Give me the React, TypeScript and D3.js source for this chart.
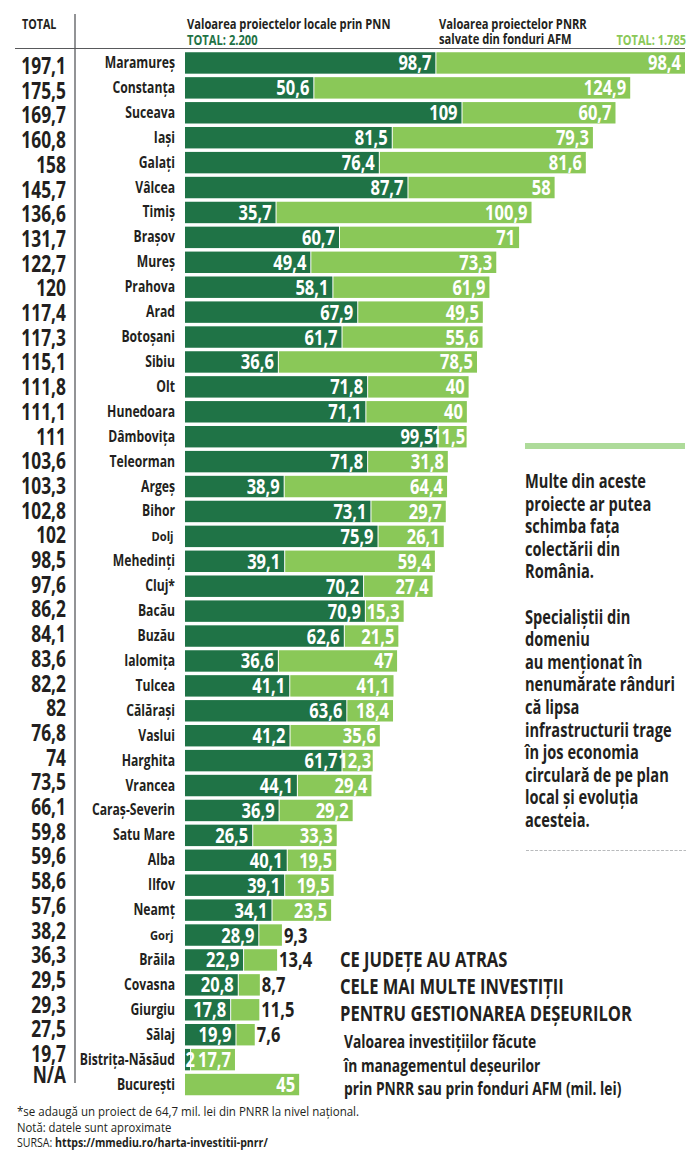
import React from "react";
import * as d3 from "d3";

const counties = ["Maramureș","Constanța","Suceava","Iași","Galați","Vâlcea","Timiș","Brașov","Mureș","Prahova","Arad","Botoșani","Sibiu","Olt","Hunedoara","Dâmbovița","Teleorman","Argeș","Bihor","Dolj","Mehedinți","Cluj*","Bacău","Buzău","Ialomița","Tulcea","Călărași","Vaslui","Harghita","Vrancea","Caraș-Severin","Satu Mare","Alba","Ilfov","Neamț","Gorj","Brăila","Covasna","Giurgiu","Sălaj","Bistrița-Năsăud","București"];
const localValues = [98.7,50.6,109,81.5,76.4,87.7,35.7,60.7,49.4,58.1,67.9,61.7,36.6,71.8,71.1,99.5,71.8,38.9,73.1,75.9,39.1,70.2,70.9,62.6,36.6,41.1,63.6,41.2,61.7,44.1,36.9,26.5,40.1,39.1,34.1,28.9,22.9,20.8,17.8,19.9,2,0];
const pnrrValues = [98.4,124.9,60.7,79.3,81.6,58,100.9,71,73.3,61.9,49.5,55.6,78.5,40,40,11.5,31.8,64.4,29.7,26.1,59.4,27.4,15.3,21.5,47,41.1,18.4,35.6,12.3,29.4,29.2,33.3,19.5,19.5,23.5,9.3,13.4,8.7,11.5,7.6,17.7,45];
const totals = ["197,1","175,5","169,7","160,8","158","145,7","136,6","131,7","122,7","120","117,4","117,3","115,1","111,8","111,1","111","103,6","103,3","102,8","102","98,5","97,6","86,2","84,1","83,6","82,2","82","76,8","74","73,5","66,1","59,8","59,6","58,6","57,6","38,2","36,3","29,5","29,3","27,5","19,7","N/A"];
const sideText = ["Multe din aceste","proiecte ar putea","schimba fața","colectării din","România.","","Specialiștii din","domeniu","au menționat în","nenumărate rânduri","că lipsa","infrastructurii trage","în jos economia","circulară de pe plan","local și evoluția","acesteia."];
const titleLines = ["CE JUDEȚE AU ATRAS","CELE MAI MULTE INVESTIȚII","PENTRU GESTIONAREA DEȘEURILOR"];
const subtitleLines = ["Valoarea investițiilor făcute","în managementul deșeurilor","prin PNRR sau prin fonduri AFM (mil. lei)"];

const DARK = "#1f7346";
const LIGHT = "#8ac858";
const INK = "#231f20";
const FONT = "'Open Sans', sans-serif";

type TP = { x: number; y: number; size: number; sx?: number; anchor?: string; fill?: string; weight?: number; children: React.ReactNode };
function T({ x, y, size, sx = 0.74, anchor = "start", fill = INK, weight = 700, children }: TP) {
  return (
    <text transform={`translate(${x},${y}) scale(${sx},1)`} fontFamily={FONT} fontSize={size} fontWeight={weight} textAnchor={anchor} fill={fill}>
      {children}
    </text>
  );
}

const fmt = (v: number) => String(v).replace(".", ",");

export default function App() {
  const x = d3.scaleLinear().domain([0, 197.1]).range([185, 685]);
  const y = d3.scaleBand<number>().domain(d3.range(counties.length)).range([50.5, 1097]).paddingInner(0.14).paddingOuter(0.07);
  const totalY = d3.scaleLinear().domain([0, 40, 41]).range([74, 1062, 1083]);
  const bh = y.bandwidth();
  return (
    <svg width={699} height={1163} style={{ position: "absolute", left: 0, top: 0, background: "#fff" }}>
      <T x={22} y={29} size={14.5}>TOTAL</T>
      <T x={187} y={29} size={14.5} sx={0.77}>Valoarea proiectelor locale prin PNN</T>
      <T x={187} y={45} size={14.5} sx={0.77} fill={DARK}>TOTAL: 2.200</T>
      <T x={439} y={29} size={14.5} sx={0.77}>Valoarea proiectelor PNRR</T>
      <T x={439} y={44} size={14.5} sx={0.77}>salvate din fonduri AFM</T>
      <T x={686} y={45} size={14.5} sx={0.76} anchor="end" fill={LIGHT}>TOTAL: 1.785</T>
      <line x1={75} x2={75} y1={14} y2={1083} stroke="#77787b" strokeWidth={1.6} />
      <line x1={15} x2={685} y1={48.5} y2={48.5} stroke="#58595b" strokeWidth={1.2} />

      {counties.map((c, i) => {
        const top = y(i)!;
        const mid = top + bh / 2;
        const base = mid + 7.5;
        const a = localValues[i];
        const b = pnrrValues[i];
        const x0 = x(0);
        const x1 = x(a);
        const x2 = x(a + b);
        const small = c === "Dolj" || c === "Gorj";
        const outside = b < 14 && a > 2 && a + b < 45;
        const tight = b < 14;
        return (
          <g key={c}>
            <T x={66} y={totalY(i)} size={23.5} anchor="end">{totals[i]}</T>
            <T x={small ? 173.5 : 175} y={mid + 5} size={small ? 13 : 16} sx={small ? 0.86 : 0.76} anchor="end">{c}</T>
            {a > 0 && <rect x={x0} y={top} width={x1 - x0} height={bh} fill={DARK} />}
            <rect x={x1 + (a > 0 ? 1 : 0)} y={top} width={x2 - x1 - (a > 0 ? 1 : 0)} height={bh} fill={LIGHT} />
            {a > 2 && <T x={x1 - 4} y={base} size={22} sx={0.75} anchor="end" fill="#fff">{fmt(a)}</T>}
            {a === 2 && <T x={x0 + 0.5} y={base} size={22} sx={0.75} fill="#fff">2</T>}
            {outside
              ? <T x={x2 + 2} y={base} size={22} sx={0.75}>{fmt(b)}</T>
              : <T x={x2 - (tight ? 1.5 : 4)} y={base} size={22} sx={0.75} anchor="end" fill="#fff">{fmt(b)}</T>}
          </g>
        );
      })}

      <rect x={525} y={443} width={160} height={6} fill="#aedb9a" />
      {sideText.map((s, i) => (
        <T key={i} x={525} y={488 + i * 22.6} size={19.5} sx={0.75}>{s}</T>
      ))}
      <line x1={526} x2={686} y1={850.5} y2={850.5} stroke="#a7a9ac" strokeWidth={0.8} strokeDasharray="3 1.5" />

      {titleLines.map((s, i) => (
        <T key={s} x={340} y={966.5 + i * 27.2} size={21.5} sx={0.77}>{s}</T>
      ))}
      {subtitleLines.map((s, i) => (
        <T key={s} x={344} y={1048 + i * 23.5} size={17.5} sx={0.79}>{s}</T>
      ))}

      <T x={17} y={1116} size={13.5} sx={0.855} weight={400}>*se adaugă un proiect de 64,7 mil. lei din PNRR la nivel național.</T>
      <T x={17} y={1131.5} size={13.5} sx={0.84} weight={400}>Notă: datele sunt aproximate</T>
      <text transform="translate(17,1147) scale(0.815,1)" fontFamily={FONT} fontSize={13} fill={INK}>
        SURSA: <tspan fontWeight={700}>https://mmediu.ro/harta-investitii-pnrr/</tspan>
      </text>
    </svg>
  );
}
